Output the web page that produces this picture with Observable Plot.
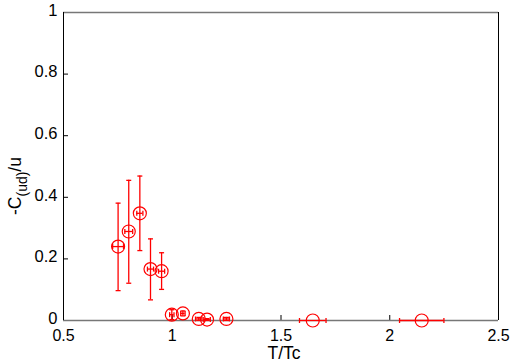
<!DOCTYPE html>
<html>
<head>
<meta charset="utf-8">
<script src="https://cdn.jsdelivr.net/npm/d3@7"></script>
<script src="https://cdn.jsdelivr.net/npm/@observablehq/plot@0.6"></script>
<style>
  html, body { margin: 0; padding: 0; background: #fff; }
</style>
</head>
<body>
<div id="chart"></div>
<script>
// Data
const T    = [0.751, 0.800, 0.851, 0.900, 0.951, 0.998, 1.049, 1.122, 1.160, 1.249, 1.646, 2.147];
const C    = [0.240, 0.289, 0.348, 0.167, 0.160, 0.019, 0.023, 0.005, 0.003, 0.005, 0.000, 0.000];
const cLo  = [0.097, 0.121, 0.227, 0.067, 0.101, 0.003, 0.015, 0.000, 0.000, 0.000, 0.000, 0.000];
const cHi  = [0.381, 0.455, 0.469, 0.265, 0.220, 0.035, 0.031, 0.010, 0.006, 0.010, 0.000, 0.000];
const tErr = [0.025, 0.018, 0.014, 0.014, 0.014, 0.010, 0.010, 0.015, 0.015, 0.014, 0.061, 0.102];
const xTicks = [0.5, 1, 1.5, 2, 2.5];
const yTicks = [0, 0.2, 0.4, 0.6, 0.8, 1];
const xTickLabels = ["0.5", "1", "1.5", "2", "2.5"];
const yTickLabels = ["0", "0.2", "0.4", "0.6", "0.8", "1"];

const data = T.map((t, i) => ({t, c: C[i], lo: cLo[i], hi: cHi[i], tl: t - tErr[i], th: t + tErr[i]}));
const yBars = data.filter(d => d.hi - d.lo > 0);
const yCaps = yBars.flatMap(d => [{t: d.t, c: d.lo}, {t: d.t, c: d.hi}]);
const xCaps = data.flatMap(d => [{t: d.tl, c: d.c}, {t: d.th, c: d.c}]);

const hCap = {draw(ctx, size) { ctx.moveTo(-2.5, 0); ctx.lineTo(2.5, 0); }};
const vCap = {draw(ctx, size) { ctx.moveTo(0, -2.5); ctx.lineTo(0, 2.5); }};

const red = "#ff0000";
const W = 514, H = 364;
const ml = 63, mr = 16, mt = 12, mb = 44;
const tickX = 5 / (W - ml - mr) * 2;   // 5px inward ticks in data units
const tickY = 5 / (H - mt - mb);
const font = "'Liberation Sans', Arial, Helvetica, sans-serif";

const chart = Plot.plot({
  width: W, height: H,
  marginLeft: ml, marginRight: mr, marginTop: mt, marginBottom: mb,
  style: {fontFamily: font, fontSize: "16.5px", background: "#fff", color: "#000"},
  x: {domain: [0.5, 2.5], label: null},
  y: {domain: [0, 1], label: null},
  marks: [
    Plot.axisX(xTicks, {tickSize: 0, tickPadding: 9, fontSize: 16, tickFormat: (d, i) => xTickLabels[i], label: null}),
    Plot.axisY(yTicks, {tickSize: 0, tickPadding: 6, fontSize: 16.5, dy: -2, tickFormat: (d, i) => yTickLabels[i], label: null}),
    // inward ticks
    Plot.ruleX(xTicks, {x: d => d, y1: 0, y2: tickY, stroke: "#000"}),
    Plot.ruleY(yTicks, {y: d => d, x1: 0.5, x2: 0.5 + tickX, stroke: "#000"}),
    // frame
    Plot.ruleY([0, 1], {stroke: "#777", strokeWidth: 1.3}),
    Plot.ruleX([0.5, 2.5], {stroke: "#000"}),
    // error bars
    Plot.ruleX(yBars, {x: "t", y1: "lo", y2: "hi", stroke: red, strokeWidth: 1.3}),
    Plot.dot(yCaps, {x: "t", y: "c", symbol: hCap, stroke: red, strokeWidth: 1.3, fill: "none"}),
    Plot.ruleY(data, {y: "c", x1: "tl", x2: "th", stroke: red, strokeWidth: 1.3}),
    Plot.dot(xCaps, {x: "t", y: "c", symbol: vCap, stroke: red, strokeWidth: 1.3, fill: "none"}),
    Plot.dot(data, {x: "t", y: "c", r: 6.5, stroke: red, strokeWidth: 1.2, fill: "none"})
  ]
});
document.getElementById("chart").appendChild(chart);

const svg = d3.select(chart);
svg.append("text")
  .attr("x", 284).attr("y", 359)
  .attr("text-anchor", "middle")
  .attr("fill", "#000")
  .style("font-family", font)
  .style("font-size", "17.5px")
  .text("T/Tc");

const yl = svg.append("text")
  .attr("transform", "translate(21,186) rotate(-90)")
  .attr("text-anchor", "middle")
  .attr("fill", "#000")
  .style("font-family", font)
  .style("font-size", "17.5px");
yl.append("tspan").text("-C");
yl.append("tspan").attr("dy", 6).style("font-size", "14px").text("(ud)");
yl.append("tspan").attr("dy", -6).text("/u");
</script>
</body>
</html>
